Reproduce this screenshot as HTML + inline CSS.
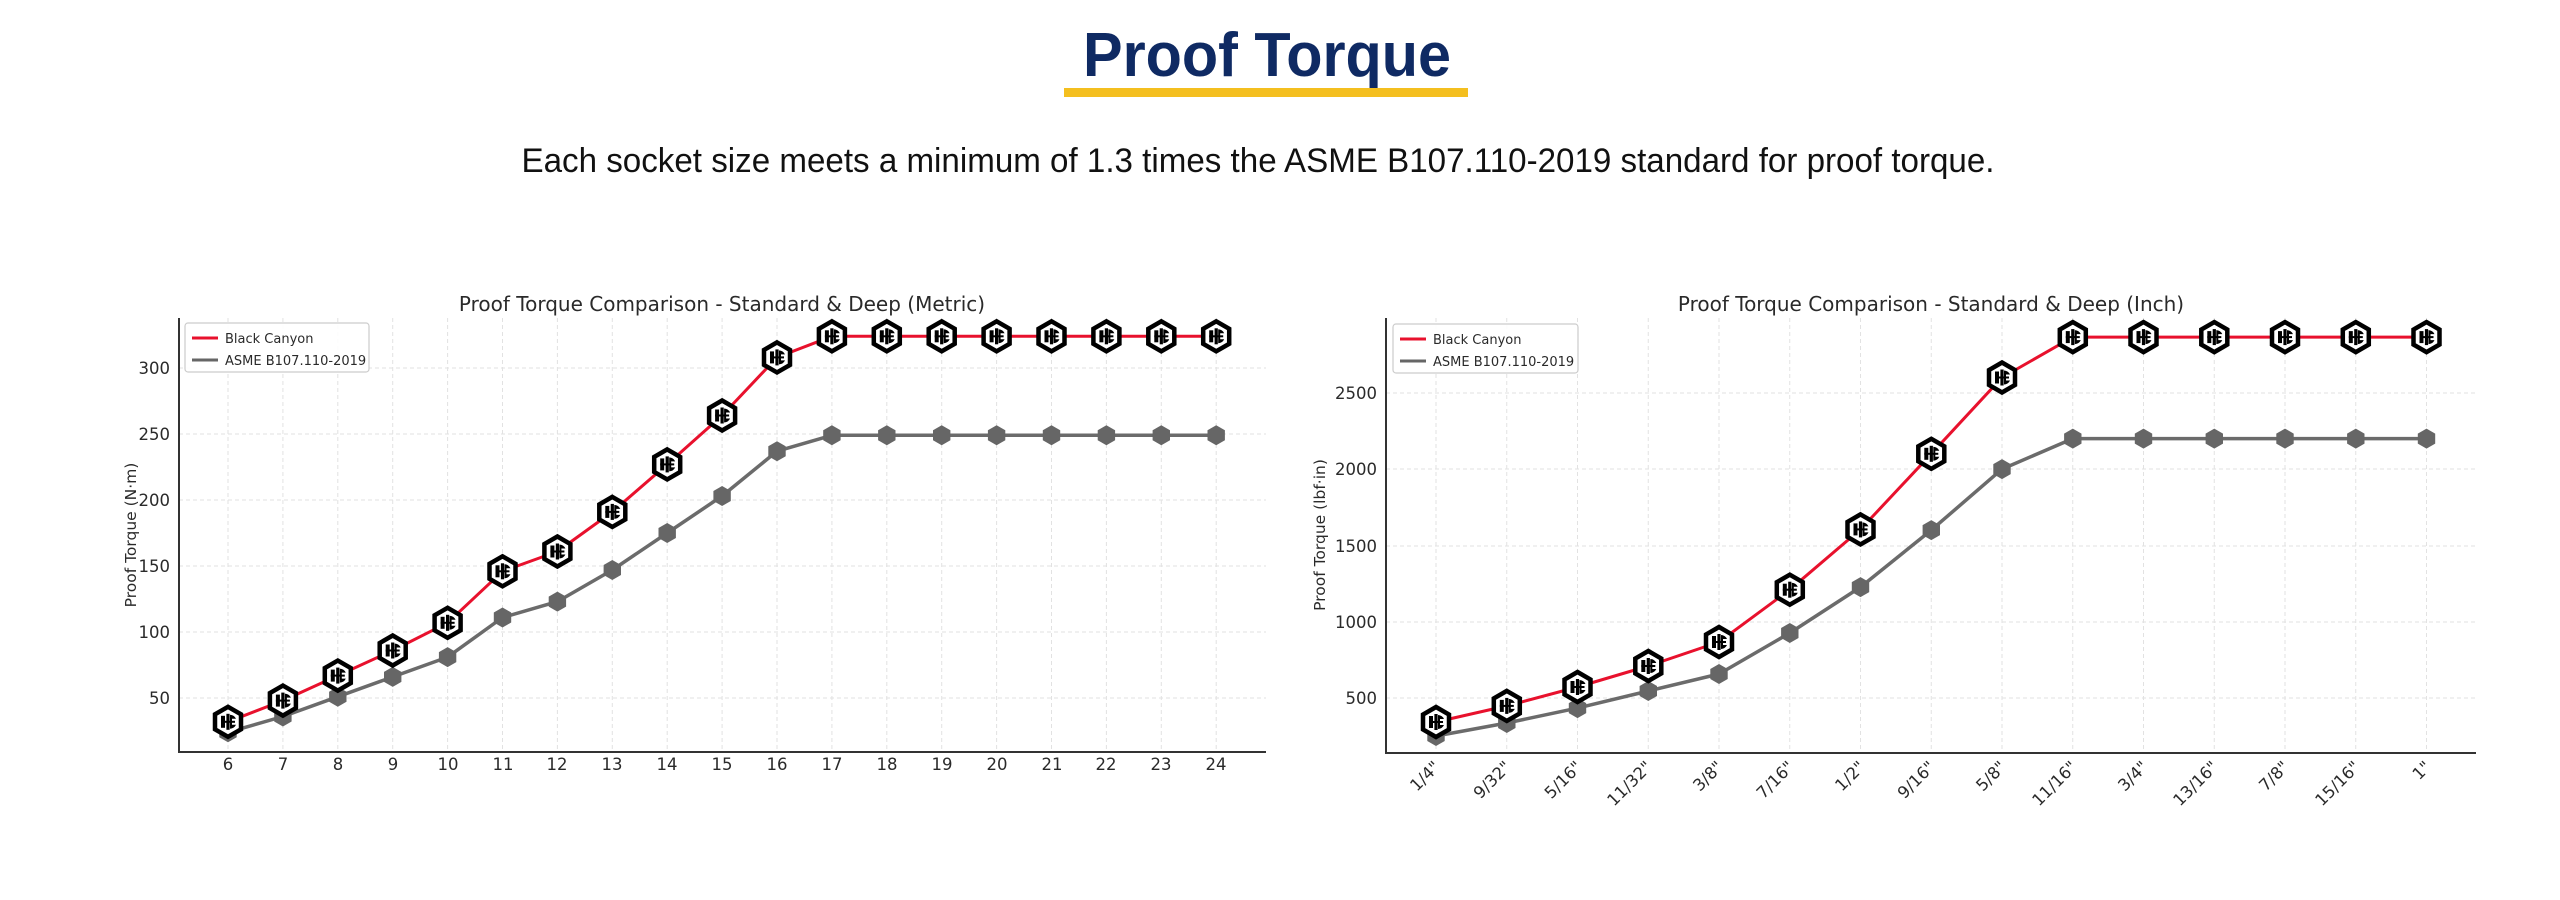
<!DOCTYPE html>
<html><head><meta charset="utf-8"><style>
html,body{margin:0;padding:0;background:#fff;width:2560px;height:900px;overflow:hidden}
svg{display:block}
.t{font-family:"DejaVu Sans","Liberation Sans",sans-serif;fill:#2a2a2a}
</style></head><body>
<svg id="s" width="2560" height="900" viewBox="0 0 2560 900" xmlns="http://www.w3.org/2000/svg">
<defs>
<g id="bc">
<polygon points="0,-15 13,-7.5 13,7.5 0,15 -13,7.5 -13,-7.5" fill="#fff" stroke="#000" stroke-width="4.5"/>
<rect x="-1.6" y="-8" width="3.2" height="16" fill="#000"/>
<path d="M -7,-6 L -3,-6 L -3,6 L -7,6 Z" fill="#000"/>
<path d="M 2,-7 A 7 7 0 0 1 8,-3 L 4,-3 L 4,3 L 8,3 A 7 7 0 0 1 2,7 Z" fill="#000"/>
<rect x="-7" y="-1" width="14" height="2" fill="#000"/>
</g>
<polygon id="gm" points="0,-10 8.7,-5 8.7,5 0,10 -8.7,5 -8.7,-5" fill="#666"/>
</defs>
<text x="1267" y="76" text-anchor="middle" font-family="Liberation Sans,sans-serif" font-weight="bold" font-size="62" fill="#0f2a63" textLength="368" lengthAdjust="spacingAndGlyphs">Proof Torque</text>
<rect x="1064" y="88" width="404" height="9" fill="#f4bf1f"/>
<text x="1258" y="172" text-anchor="middle" font-family="Liberation Sans,sans-serif" font-size="34" fill="#111" textLength="1473" lengthAdjust="spacingAndGlyphs">Each socket size meets a minimum of 1.3 times the ASME B107.110-2019 standard for proof torque.</text>

<g id="grid" stroke="#e2e2e2" stroke-width="1" stroke-dasharray="4,3"></g>

<text class="t" x="722" y="311" text-anchor="middle" font-size="20" fill="#333">Proof Torque Comparison - Standard &amp; Deep (Metric)</text>
<g class="t" font-size="16.5" text-anchor="end">
<text x="170" y="374">300</text><text x="170" y="440">250</text><text x="170" y="506">200</text><text x="170" y="572">150</text><text x="170" y="638">100</text><text x="170" y="704">50</text>
</g>
<g class="t" font-size="16.5" text-anchor="middle">
<text x="228" y="770">6</text><text x="283" y="770">7</text><text x="338" y="770">8</text><text x="393" y="770">9</text><text x="448" y="770">10</text><text x="503" y="770">11</text><text x="557" y="770">12</text><text x="612" y="770">13</text><text x="667" y="770">14</text><text x="722" y="770">15</text><text x="777" y="770">16</text><text x="832" y="770">17</text><text x="887" y="770">18</text><text x="942" y="770">19</text><text x="997" y="770">20</text><text x="1052" y="770">21</text><text x="1106" y="770">22</text><text x="1161" y="770">23</text><text x="1216" y="770">24</text>
</g>
<text class="t" transform="translate(136,535) rotate(-90)" text-anchor="middle" font-size="15.5">Proof Torque (N·m)</text>

<text class="t" x="1931" y="311" text-anchor="middle" font-size="20" fill="#333">Proof Torque Comparison - Standard &amp; Deep (Inch)</text>
<g class="t" font-size="16.5" text-anchor="end">
<text x="1377" y="399">2500</text><text x="1377" y="475">2000</text><text x="1377" y="552">1500</text><text x="1377" y="628">1000</text><text x="1377" y="704">500</text>
</g>
<g class="t" font-size="16.5" text-anchor="end">
<text transform="translate(1441,768) rotate(-45)">1/4"</text>
<text transform="translate(1512,768) rotate(-45)">9/32"</text>
<text transform="translate(1583,768) rotate(-45)">5/16"</text>
<text transform="translate(1653,768) rotate(-45)">11/32"</text>
<text transform="translate(1724,768) rotate(-45)">3/8"</text>
<text transform="translate(1795,768) rotate(-45)">7/16"</text>
<text transform="translate(1866,768) rotate(-45)">1/2"</text>
<text transform="translate(1936,768) rotate(-45)">9/16"</text>
<text transform="translate(2007,768) rotate(-45)">5/8"</text>
<text transform="translate(2078,768) rotate(-45)">11/16"</text>
<text transform="translate(2149,768) rotate(-45)">3/4"</text>
<text transform="translate(2219,768) rotate(-45)">13/16"</text>
<text transform="translate(2290,768) rotate(-45)">7/8"</text>
<text transform="translate(2361,768) rotate(-45)">15/16"</text>
<text transform="translate(2432,768) rotate(-45)">1"</text>
</g>
<text class="t" transform="translate(1325,535) rotate(-90)" text-anchor="middle" font-size="15.5">Proof Torque (lbf·in)</text>

<g id="plots"></g>

<g stroke="#333" stroke-width="2">
<line x1="179" y1="318" x2="179" y2="753"/><line x1="178" y1="752" x2="1266" y2="752"/>
<line x1="1386" y1="318" x2="1386" y2="754"/><line x1="1385" y1="753" x2="2476" y2="753"/>
</g>

<rect x="185" y="323" width="184" height="49" rx="3" fill="#fff" fill-opacity="0.9" stroke="#ccc" stroke-width="1.2"/>
<line x1="192" y1="338" x2="218" y2="338" stroke="#e8112d" stroke-width="3"/>
<line x1="192" y1="360" x2="218" y2="360" stroke="#666" stroke-width="3"/>
<text class="t" x="225" y="343" font-size="13" fill="#333">Black Canyon</text>
<text class="t" x="225" y="365" font-size="13" fill="#333">ASME B107.110-2019</text>

<rect x="1393" y="324" width="185" height="49" rx="3" fill="#fff" fill-opacity="0.9" stroke="#ccc" stroke-width="1.2"/>
<line x1="1400" y1="339" x2="1426" y2="339" stroke="#e8112d" stroke-width="3"/>
<line x1="1400" y1="361" x2="1426" y2="361" stroke="#666" stroke-width="3"/>
<text class="t" x="1433" y="344" font-size="13" fill="#333">Black Canyon</text>
<text class="t" x="1433" y="366" font-size="13" fill="#333">ASME B107.110-2019</text>
</svg>
<script>
(function(){
var NS="http://www.w3.org/2000/svg";
function el(p,n,a){var e=document.createElementNS(NS,n);for(var k in a)e.setAttribute(k,a[k]);p.appendChild(e);return e;}
var grid=document.getElementById('grid'),plots=document.getElementById('plots');
var mx=[],i;for(i=0;i<19;i++)mx.push(228+54.9*i);
var mY=function(v){return 764-1.32*v;};
mx.forEach(function(x){el(grid,'line',{x1:x,y1:318,x2:x,y2:752});});
[368,434,500,566,632,698].forEach(function(y){el(grid,'line',{x1:179,y1:y,x2:1266,y2:y});});
var mBC=[32,48,67,86,107,146,161,191,227,264,308,324,324,324,324,324,324,324,324];
var mAS=[24,36,51,66,81,111,123,147,175,203,237,249,249,249,249,249,249,249,249];
var ix=[];for(i=0;i<15;i++)ix.push(1436+70.75*i);
var iY=function(v){return 698-(v-500)*0.1526;};
ix.forEach(function(x){el(grid,'line',{x1:x,y1:318,x2:x,y2:753});});
[393,469,546,622,698].forEach(function(y){el(grid,'line',{x1:1386,y1:y,x2:2476,y2:y});});
var iBC=[343,448,572,710,867,1210,1605,2100,2600,2865,2865,2865,2865,2865,2865];
var iAS=[251,336,434,546,657,926,1227,1600,2000,2200,2200,2200,2200,2200,2200];
function series(xs,vs,f,col,w,mk){
  var d=xs.map(function(x,j){return (j?'L':'M')+x.toFixed(1)+','+f(vs[j]).toFixed(1);}).join(' ');
  el(plots,'path',{d:d,fill:'none',stroke:col,'stroke-width':w,'stroke-linejoin':'round'});
  xs.forEach(function(x,j){el(plots,'use',{href:'#'+mk,x:x.toFixed(1),y:f(vs[j]).toFixed(1)});});
}
series(mx,mAS,mY,'#6b6b6b',3.5,'gm');
series(mx,mBC,mY,'#e8112d',3,'bc');
series(ix,iAS,iY,'#6b6b6b',3.5,'gm');
series(ix,iBC,iY,'#e8112d',3,'bc');
})();
</script>
</body></html>
